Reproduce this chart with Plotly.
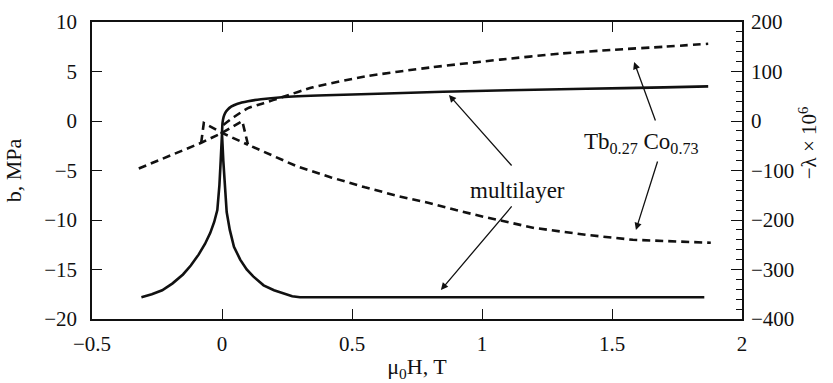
import plotly.graph_objects as go

# ---- data ----
# multilayer, b (MPa), left axis
ml_peak_x = [-0.31, -0.27, -0.23, -0.19, -0.15, -0.12, -0.09, -0.065, -0.045, -0.03, -0.018, -0.01, -0.005, 0.0,
             0.005, 0.01, 0.018, 0.03, 0.046, 0.07, 0.095, 0.12, 0.16, 0.2, 0.24, 0.27, 0.3, 0.5, 1.0, 1.5, 1.855]
ml_peak_b = [-17.8, -17.5, -17.1, -16.4, -15.5, -14.6, -13.5, -12.4, -11.3, -10.2, -9.0, -6.5, -4.0, -1.3,
             -4.0, -6.5, -9.2, -11.0, -12.7, -14.0, -15.0, -15.7, -16.6, -17.1, -17.45, -17.7, -17.8, -17.8, -17.8, -17.8, -17.8]
ml_up_x = [0.0, 0.002, 0.006, 0.012, 0.02, 0.035, 0.06, 0.1, 0.15, 0.23, 0.4, 0.6, 0.85, 1.1, 1.4, 1.7, 1.87]
ml_up_b = [-1.3, -0.2, 0.4, 0.8, 1.1, 1.45, 1.75, 2.0, 2.2, 2.4, 2.6, 2.75, 2.95, 3.1, 3.25, 3.4, 3.5]

# Tb0.27Co0.73, -lambda x 1e6, right axis
tb_up_x = [0.005, 0.046, 0.1, 0.16, 0.23, 0.35, 0.55, 0.8, 1.07, 1.3, 1.51, 1.7, 1.87]
tb_up_l = [-8, 8, 26, 36, 48, 68, 90, 108, 124, 136, 144, 150, 156]
tb_main_x = [-0.32, -0.2, -0.08, 0.0, 0.078, 0.1, 0.2, 0.29, 0.42, 0.55, 0.68, 0.8, 0.9, 1.01, 1.2, 1.4, 1.58, 1.75, 1.88]
tb_main_l = [-96, -70, -44, -24, 0, -48, -72, -92, -114, -134, -152, -166, -180, -194, -216, -230, -240, -244, -246]
tb_loop_x = [-0.08, -0.07, 0.0, 0.1]
tb_loop_l = [-44, -4, -24, -48]

x_ticks = [-0.5, 0, 0.5, 1, 1.5, 2]
y_ticks = [10, 5, 0, -5, -10, -15, -20]
y2_ticks = [200, 100, 0, -100, -200, -300, -400]

FONT = "Liberation Serif"
BLACK = "#111111"

fig = go.Figure()
solid = dict(color=BLACK, width=2.6)
dashed = dict(color=BLACK, width=2.6, dash="8px,5px")

fig.add_trace(go.Scatter(x=ml_peak_x, y=ml_peak_b, mode="lines", line=solid, name="multilayer"))
fig.add_trace(go.Scatter(x=ml_up_x, y=ml_up_b, mode="lines", line=dict(solid, shape="spline", smoothing=0.6), name="multilayer"))
fig.add_trace(go.Scatter(x=tb_up_x, y=tb_up_l, mode="lines", line=dict(dashed, shape="spline", smoothing=0.6), yaxis="y2", name="TbCo"))
fig.add_trace(go.Scatter(x=tb_main_x, y=tb_main_l, mode="lines", line=dashed, yaxis="y2", name="TbCo"))
fig.add_trace(go.Scatter(x=tb_loop_x, y=tb_loop_l, mode="lines", line=dashed, yaxis="y2", name="TbCo"))

tickfont = dict(family=FONT, size=21, color=BLACK)
titlefont = dict(family=FONT, size=22, color=BLACK)

fig.update_layout(
    width=833, height=383,
    margin=dict(l=92, r=91, t=22, b=64),
    paper_bgcolor="white", plot_bgcolor="white",
    showlegend=False,
    font=dict(family=FONT, size=21, color=BLACK),
    xaxis=dict(range=[-0.5, 2], tickvals=x_ticks, ticks="inside", ticklen=10, tickwidth=1.3,
               tickcolor=BLACK, showline=True, linecolor=BLACK, linewidth=1.6, mirror="ticks",
               showgrid=False, zeroline=False, tickfont=tickfont, ticklabelstandoff=5,
               automargin=False,
               title=dict(text="μ<sub>0</sub>H, T", font=titlefont, standoff=4)),
    yaxis=dict(range=[-20, 10], tickvals=y_ticks, ticks="inside", ticklen=10, tickwidth=1.3,
               tickcolor=BLACK, showline=True, linecolor=BLACK, linewidth=1.6,
               showgrid=False, zeroline=False, tickfont=tickfont, ticklabelstandoff=9,
               automargin=False,
               title=dict(text="b, MPa", font=titlefont, standoff=16)),
    yaxis2=dict(range=[-400, 200], tickvals=y2_ticks, overlaying="y", side="right",
                ticks="inside", ticklen=11, tickwidth=1.3, tickcolor=BLACK,
                minor=dict(dtick=20, ticks="inside", ticklen=6, tickwidth=1.2, tickcolor=BLACK),
                showline=True, linecolor=BLACK, linewidth=1.6, ticklabelstandoff=3,
                automargin=False,
                showgrid=False, zeroline=False, tickfont=tickfont),
)

arrow = dict(showarrow=True, arrowhead=2, arrowsize=1.1, arrowwidth=1.3, arrowcolor=BLACK,
             axref="x", ayref="y", xref="x", yref="y", text="")
fig.add_annotation(x=0.873, y=2.63, ax=1.119, ay=-4.65, **arrow)
fig.add_annotation(x=0.842, y=-17.07, ax=1.119, ay=-8.48, **arrow)
fig.add_annotation(x=1.585, y=5.96, ax=1.669, ay=-0.1, **arrow)
fig.add_annotation(x=1.592, y=-11.0, ax=1.677, ay=-3.94, **arrow)

fig.add_annotation(x=1.138, y=-6.97, xref="x", yref="y", text="multilayer", showarrow=False,
                   font=dict(family=FONT, size=23, color=BLACK))
fig.add_annotation(x=1.615, y=-2.2, xref="x", yref="y", text="Tb<sub>0.27</sub> Co<sub>0.73</sub>",
                   showarrow=False, font=dict(family=FONT, size=23, color=BLACK))
fig.add_annotation(x=1.126, y=0.593, xref="paper", yref="paper", text="−λ × 10<sup>6</sup>",
                   textangle=-90, showarrow=False, font=dict(family=FONT, size=21, color=BLACK))

fig.write_html("out.html")
